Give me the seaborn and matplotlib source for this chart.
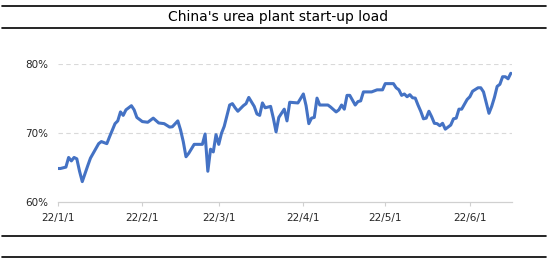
import matplotlib
matplotlib.use("Agg")
import matplotlib.pyplot as plt
from matplotlib.lines import Line2D
import seaborn as sns
import pandas as pd

title = "China's urea plant start-up load"

dates = [
    "01-01", "01-02", "01-04", "01-05", "01-06", "01-07", "01-08", "01-09", "01-10", "01-12",
    "01-13", "01-14", "01-16", "01-17", "01-19", "01-20", "01-22", "01-23", "01-24", "01-25",
    "01-26", "01-28", "01-29", "01-30", "02-01", "02-03", "02-05", "02-07", "02-09", "02-11",
    "02-12", "02-14", "02-15", "02-16", "02-17", "02-18", "02-20", "02-23", "02-24", "02-25",
    "02-26", "02-27", "02-28", "03-01", "03-02", "03-03", "03-05", "03-06", "03-07", "03-08",
    "03-10", "03-11", "03-12", "03-14", "03-15", "03-16", "03-17", "03-18", "03-20", "03-21",
    "03-22", "03-23", "03-25", "03-26", "03-27", "03-30", "04-01", "04-02", "04-03", "04-04",
    "04-05", "04-06", "04-07", "04-10", "04-11", "04-13", "04-14", "04-15", "04-16", "04-17",
    "04-18", "04-20", "04-21", "04-22", "04-23", "04-26", "04-28", "04-30", "05-01", "05-04",
    "05-05", "05-06", "05-07", "05-08", "05-09", "05-10", "05-11", "05-12", "05-13", "05-14",
    "05-15", "05-16", "05-17", "05-18", "05-19", "05-20", "05-21", "05-22", "05-23", "05-25",
    "05-26", "05-27", "05-28", "05-29", "05-31", "06-01", "06-02", "06-04", "06-05", "06-06",
    "06-08", "06-09", "06-10", "06-11", "06-12", "06-13", "06-14", "06-15", "06-16",
]
load = [
    64.9, 64.9, 65.1, 66.5, 66.0, 66.5, 66.3, 64.5, 63.0, 65.3,
    66.4, 67.1, 68.5, 68.8, 68.5, 69.5, 71.4, 71.8, 73.1, 72.6,
    73.4, 74.0, 73.4, 72.3, 71.7, 71.6, 72.2, 71.5, 71.4, 70.9,
    70.95, 71.8, 70.5, 68.8, 66.6, 67.1, 68.4, 68.4, 69.9, 64.5,
    67.7, 67.3, 69.8, 68.4, 70.0, 71.0, 74.1, 74.3, 73.7, 73.2,
    74.0, 74.3, 75.2, 73.9, 72.8, 72.6, 74.4, 73.7, 73.9, 72.2,
    70.2, 72.3, 73.5, 71.8, 74.5, 74.4, 75.7, 74.0, 71.4, 72.2,
    72.3, 75.1, 74.1, 74.1, 73.8, 73.1, 73.4, 74.1, 73.5, 75.5,
    75.5, 74.1, 74.6, 74.7, 76.0, 76.0, 76.3, 76.3, 77.2, 77.2,
    76.6, 76.3, 75.5, 75.7, 75.3, 75.6, 75.15, 75.1, 74.1, 73.2,
    72.1, 72.2, 73.2, 72.4, 71.45, 71.4, 71.1, 71.45, 70.6, 71.2,
    72.1, 72.2, 73.5, 73.5, 74.9, 75.3, 76.1, 76.6, 76.6, 76.0,
    72.9, 73.9, 75.2, 76.8, 77.1, 78.2, 78.2, 77.9, 78.7,
]
tick_dates = ["01-01", "02-01", "03-01", "04-01", "05-01", "06-01"]
tick_labels = ["22/1/1", "22/2/1", "22/3/1", "22/4/1", "22/5/1", "22/6/1"]
y_ticks = [60, 70, 80]

df = pd.DataFrame({"date": pd.to_datetime(["2022-" + d for d in dates]), "load": load})

sns.set_theme(style="white")
plt.rcParams["font.family"] = ["DejaVu Sans"]

fig = plt.figure(figsize=(5.57, 2.64), dpi=100)
ax = fig.add_axes([0.1036, 0.2337, 0.8155, 0.5227])

sns.lineplot(data=df, x="date", y="load", ax=ax, color="#4472C4", linewidth=2.2)

ax.set_ylim(60, 80)
ax.set_xlim(pd.Timestamp("2022-01-01"), pd.Timestamp("2022-06-16 10:00"))
ax.set_yticks(y_ticks)
ax.set_yticklabels([f"{v}%" for v in y_ticks])
ax.set_xticks(pd.to_datetime(["2022-" + d for d in tick_dates]))
ax.set_xticklabels(tick_labels)
ax.set_xlabel("")
ax.set_ylabel("")

for v in y_ticks[1:]:
    ax.axhline(v, color="#D9D9D9", linestyle=(0, (4, 3)), linewidth=0.8, zorder=0)

for s in ["top", "right", "left"]:
    ax.spines[s].set_visible(False)
ax.spines["bottom"].set_color("#D0D0D0")
ax.spines["bottom"].set_linewidth(0.9)

ax.tick_params(axis="x", which="major", length=3, width=0.8, color="#D0D0D0",
               bottom=True, pad=5, labelsize=7.5, labelcolor="#262626")
ax.tick_params(axis="y", length=0, pad=7, labelsize=7.5, labelcolor="#262626")
ax.grid(False)

fig.text(0.5, 1 - 16.5 / 264, title, ha="center", va="center", fontsize=10, color="black")

for yp in [6, 27.5, 235.7, 257.3]:
    fig.add_artist(Line2D([2 / 557, 546 / 557], [1 - yp / 264, 1 - yp / 264],
                          color="black", linewidth=1.2, transform=fig.transFigure))

fig.savefig("out.png", dpi=100, facecolor="white")
